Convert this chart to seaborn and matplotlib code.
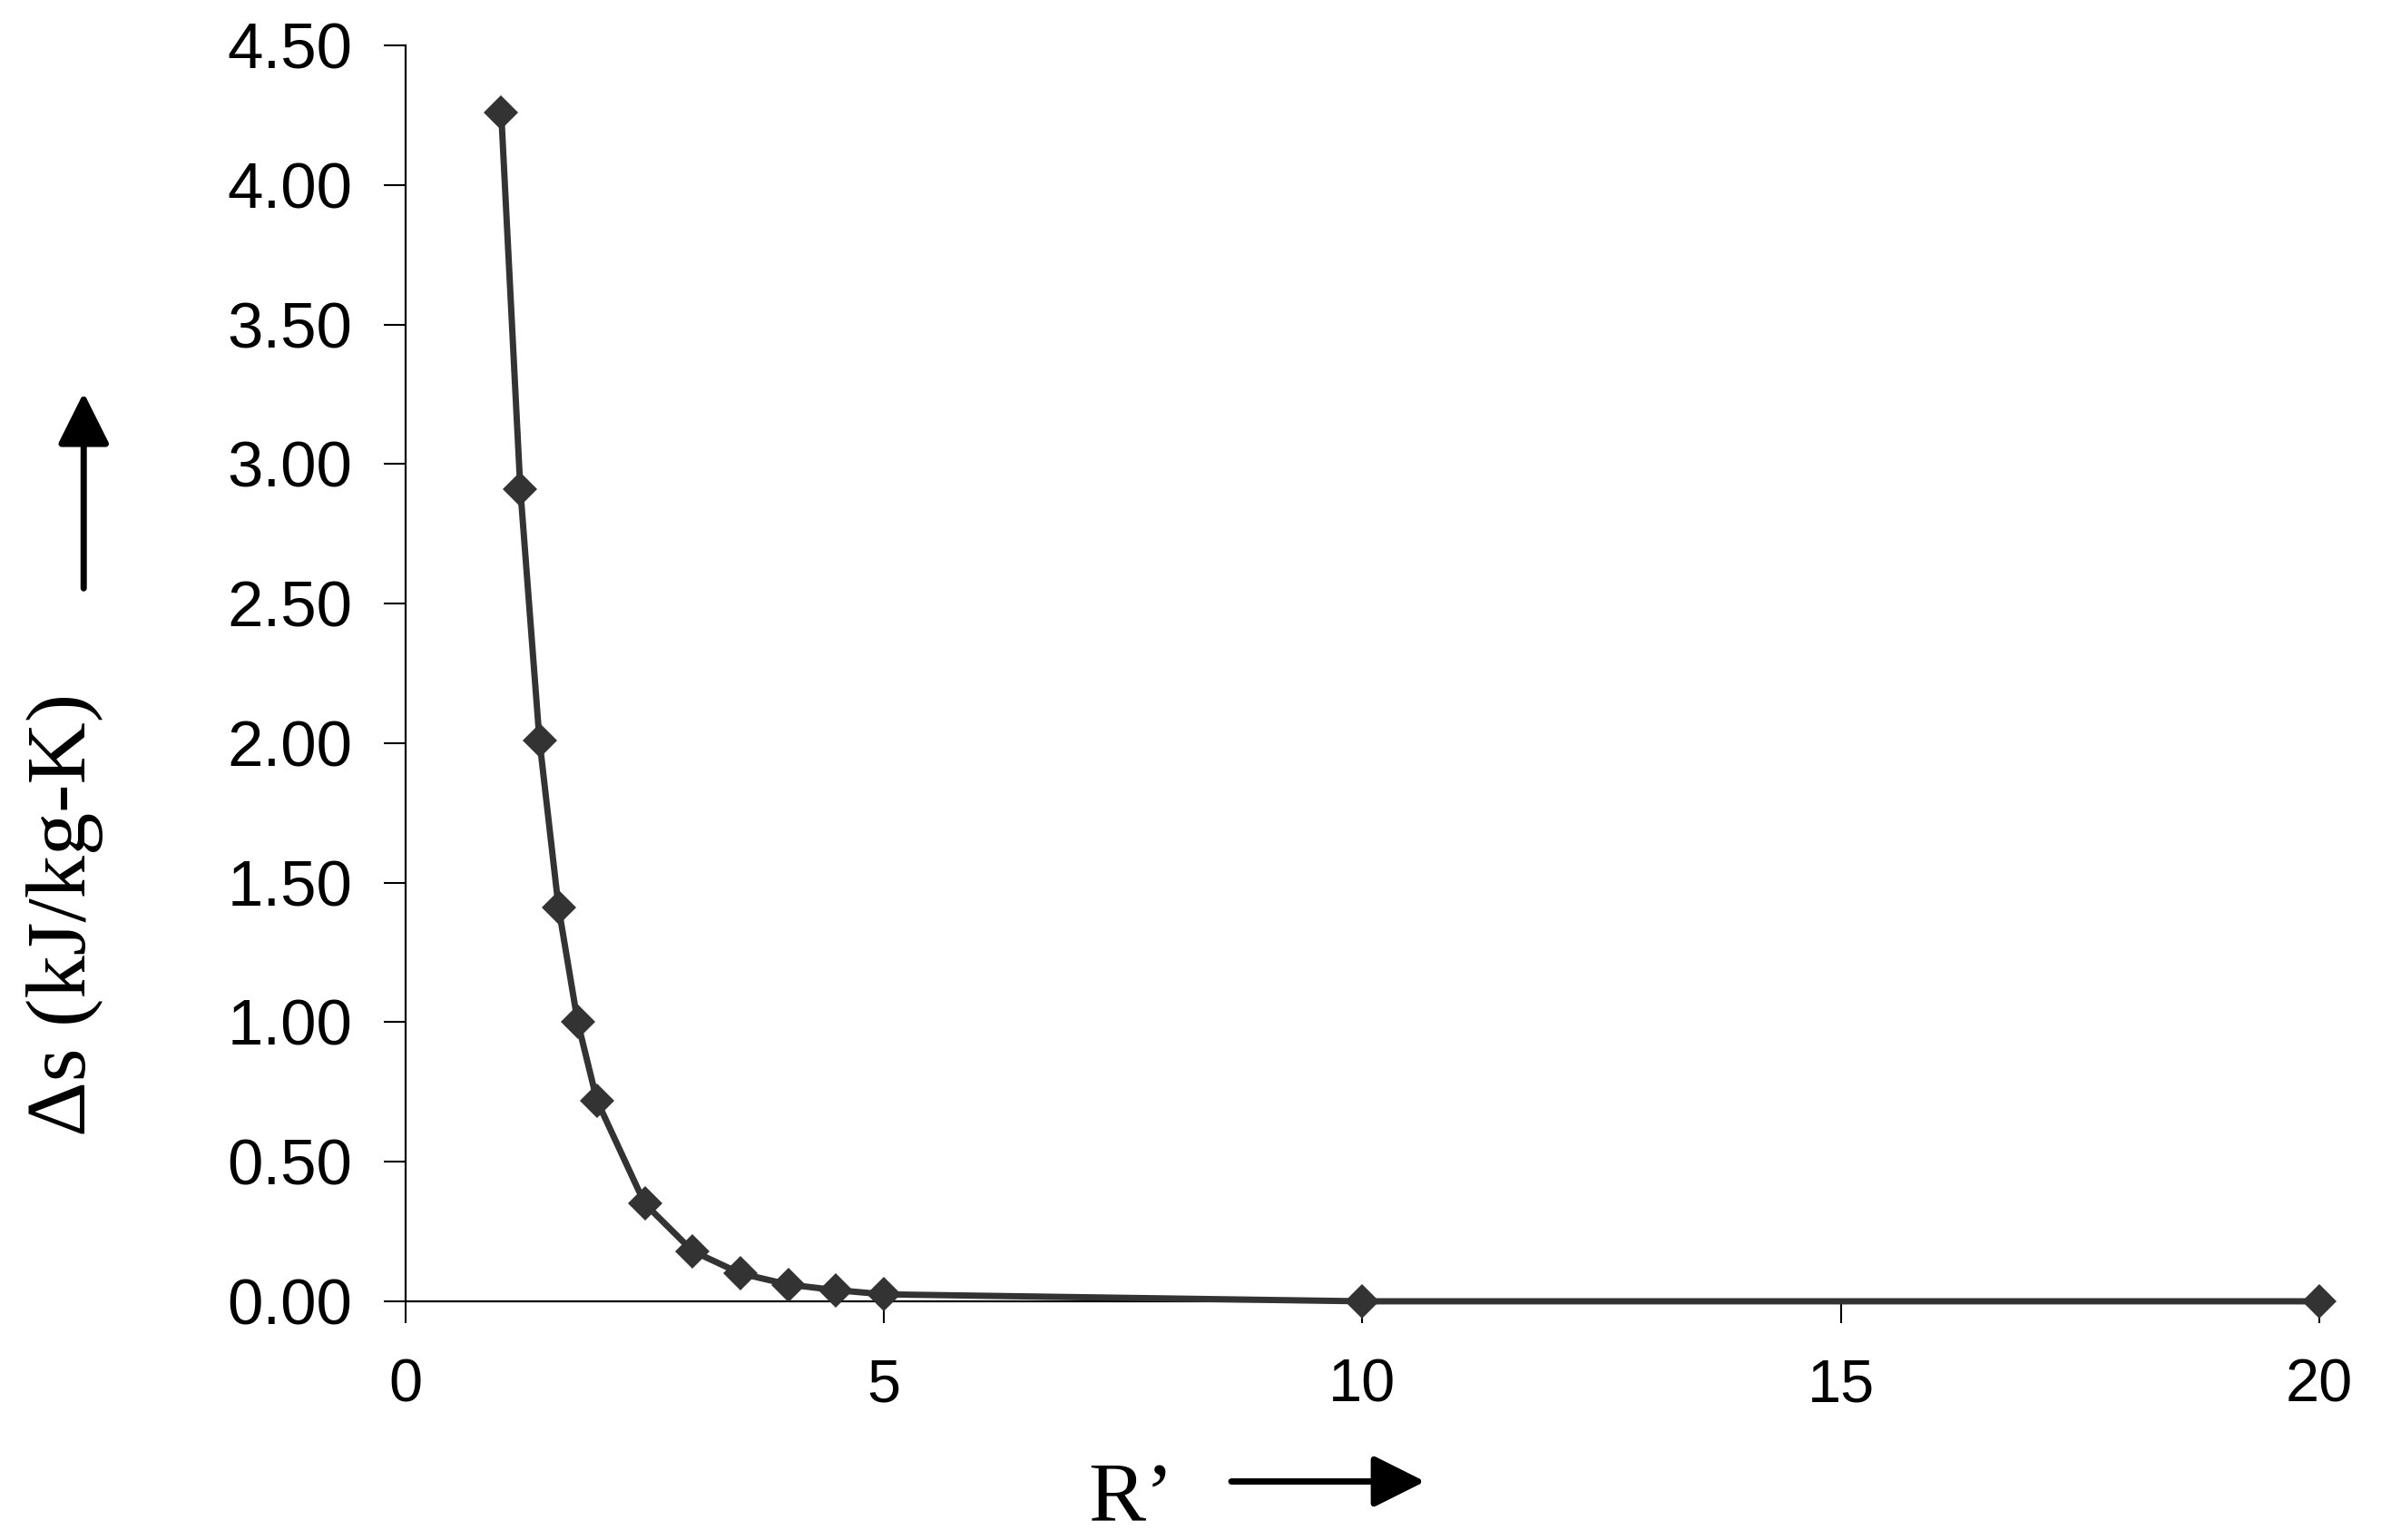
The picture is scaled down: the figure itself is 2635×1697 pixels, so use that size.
import matplotlib.pyplot as plt
import seaborn as sns
import pandas as pd

sns.set_style("white")
plt.rcParams["text.color"] = "black"
plt.rcParams["xtick.color"] = "black"
plt.rcParams["ytick.color"] = "black"

# R' values and entropy change
r_prime = [1.0, 1.2, 1.4, 1.6, 1.8, 2.0, 2.5, 3.0, 3.5, 4.0, 4.5, 5.0, 10.0, 20.0]
delta_s = [4.26, 2.91, 2.01, 1.41, 1.00, 0.72, 0.35, 0.18, 0.10, 0.06, 0.04, 0.025, 0.0, 0.0]

x_ticks = [0, 5, 10, 15, 20]
y_ticks = [0.0, 0.5, 1.0, 1.5, 2.0, 2.5, 3.0, 3.5, 4.0, 4.5]

df = pd.DataFrame({"R": r_prime, "ds": delta_s})

fig, ax = plt.subplots(figsize=(26.35, 16.97), dpi=100)
fig.subplots_adjust(left=0.1696, right=0.970, top=0.9705, bottom=0.1550)

sns.lineplot(data=df, x="R", y="ds", ax=ax, color="#333333", linewidth=5,
             marker="D", markersize=19, markeredgewidth=0, markerfacecolor="#333333",
             clip_on=False, zorder=3)

ax.set_xlim(0, 20)
ax.set_ylim(0, 4.5)
ax.set_xticks(x_ticks)
ax.set_yticks(y_ticks)
ax.set_xticklabels([str(t) for t in x_ticks], family="Liberation Sans", fontsize=48)
ax.set_yticklabels([f"{t:.2f}" for t in y_ticks], family="Liberation Sans", fontsize=51)
ax.tick_params(axis="x", bottom=True, direction="out", length=17, width=1.5, pad=28)
ax.tick_params(axis="y", left=True, direction="out", length=17, width=1.5, pad=25)
ax.set_xlabel("")
ax.set_ylabel("")

for side in ["top", "right"]:
    ax.spines[side].set_visible(False)
for side in ["left", "bottom"]:
    ax.spines[side].set_color("black")
    ax.spines[side].set_linewidth(1.6)

# axis titles with arrows, like the original
fig.text(0.473, 0.012, "R\u2019", family="Liberation Serif", fontsize=68, ha="center", va="baseline")
fig.text(0.027, 0.406, "\u0394s (kJ/kg-K)", family="Liberation Serif", fontsize=68,
         ha="center", va="center", rotation=90)

arrow = dict(arrowstyle="-|>,head_length=0.7,head_width=0.35", lw=5, color="black",
             mutation_scale=50, shrinkA=0, shrinkB=0)
ax.annotate("", xy=(0.596, 0.038), xytext=(0.515, 0.038), xycoords="figure fraction",
            textcoords="figure fraction", arrowprops=arrow)
ax.annotate("", xy=(0.035, 0.745), xytext=(0.035, 0.618), xycoords="figure fraction",
            textcoords="figure fraction", arrowprops=arrow)

fig.savefig("out.png", dpi=100)
